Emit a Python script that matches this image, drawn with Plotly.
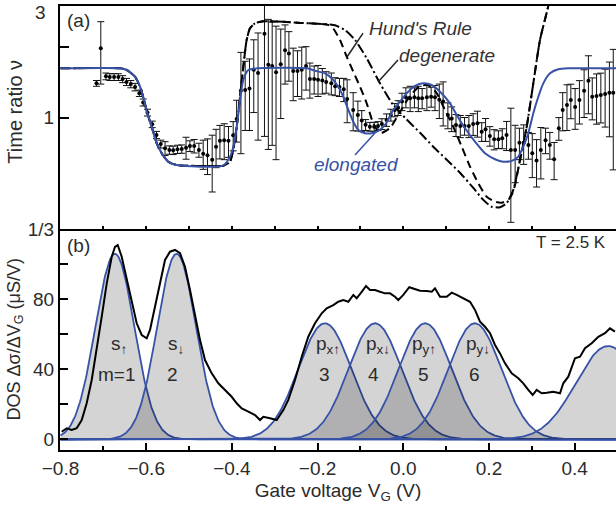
import numpy as np
import plotly.graph_objects as go

# ---------------- data: panel (a) time ratio ----------------
pts_x = [-0.716, -0.706, -0.694, -0.685, -0.675, -0.665, -0.655, -0.646, -0.636, -0.626,
         -0.616, -0.607, -0.597, -0.586, -0.576, -0.566, -0.556, -0.546, -0.537, -0.527,
         -0.517, -0.507, -0.498, -0.488, -0.477, -0.467, -0.457, -0.446, -0.437, -0.428,
         -0.418, -0.408, -0.397, -0.389, -0.379, -0.369, -0.359, -0.349, -0.339, -0.324,
         -0.315, -0.306, -0.297, -0.286, -0.276, -0.267, -0.257, -0.247, -0.237, -0.227,
         -0.218, -0.208, -0.199, -0.189, -0.180, -0.168, -0.159, -0.149, -0.139, -0.131,
         -0.117, -0.106, -0.097, -0.088, -0.078, -0.068, -0.059, -0.050, -0.039, -0.029,
         -0.020, -0.012, -0.003, 0.006, 0.016, 0.026, 0.035, 0.044, 0.055, 0.065,
         0.074, 0.084, 0.093, 0.104, 0.113, 0.123, 0.133, 0.143, 0.153, 0.163,
         0.173, 0.183, 0.192, 0.202, 0.212, 0.222, 0.231, 0.241, 0.251, 0.261,
         0.271, 0.281, 0.292, 0.301, 0.311, 0.321, 0.332, 0.342, 0.352, 0.363,
         0.372, 0.382, 0.391, 0.401, 0.411, 0.422, 0.432, 0.441, 0.451, 0.461,
         0.471, 0.481, 0.490]
pts_v = [1.40, 1.98, 1.50, 1.49, 1.49, 1.49, 1.46, 1.42, 1.39, 1.35,
         1.27, 1.16, 1.05, 0.935, 0.842, 0.77, 0.738, 0.726, 0.724, 0.731,
         0.733, 0.743, 0.755, 0.755, 0.726, 0.70, 0.69, 0.66, 0.75, 0.795,
         0.80, 0.795, 0.84, 0.985, 1.30, 1.31, 1.33, 1.60, 1.55, 2.28,
         1.68, 1.66, 1.56, 1.69, 1.94, 1.88, 1.58, 1.58, 1.60, 1.66,
         1.46, 1.46, 1.45, 1.44, 1.42, 1.40, 1.36, 1.35, 1.32, 1.20,
         1.077, 1.025, 0.97, 0.93, 0.913, 0.913, 0.92, 0.938, 0.976, 1.025,
         1.077, 1.10, 1.17, 1.22, 1.21, 1.22, 1.21, 1.21, 1.22, 1.227,
         1.22, 1.19, 1.17, 1.025, 0.99, 0.929, 0.92, 0.92, 0.92, 0.938,
         0.944, 0.87, 0.89, 0.834, 0.807, 0.807, 0.815, 0.842, 0.726, 0.726,
         0.78, 0.78, 0.763, 0.703, 0.654, 0.726, 0.80, 0.763, 0.662, 0.899,
         1.077, 1.13, 1.188, 1.11, 1.188, 1.30, 1.437, 1.227, 1.236, 1.248,
         1.26, 1.277, 1.277]
pts_err = [0.04, 0.59, 0.05, 0.05, 0.05, 0.05, 0.05, 0.05, 0.05, 0.05,
           0.04, 0.04, 0.035, 0.03, 0.03, 0.03, 0.05, 0.03, 0.03, 0.03,
           0.03, 0.08, 0.04, 0.05, 0.05, 0.10, 0.12, 0.18, 0.14, 0.13,
           0.14, 0.12, 0.12, 0.20, 0.60, 0.43, 0.45, 0.55, 0.75, 1.45,
           0.95, 0.90, 0.90, 0.70, 0.55, 0.45, 0.40, 0.35, 0.40, 0.35,
           0.25, 0.20, 0.22, 0.18, 0.15, 0.15, 0.12, 0.12, 0.15, 0.25,
           0.20, 0.15, 0.10, 0.05, 0.04, 0.04, 0.04, 0.05, 0.06, 0.06,
           0.07, 0.08, 0.10, 0.12, 0.15, 0.12, 0.15, 0.12, 0.15, 0.12,
           0.15, 0.20, 0.25, 0.13, 0.12, 0.10, 0.10, 0.08, 0.10, 0.10,
           0.12, 0.08, 0.10, 0.08, 0.08, 0.07, 0.08, 0.12, 0.37, 0.20,
           0.12, 0.15, 0.10, 0.15, 0.15, 0.18, 0.10, 0.10, 0.12, 0.10,
           0.20, 0.25, 0.20, 0.22, 0.25, 0.30, 0.40, 0.25, 0.30, 0.30,
           0.35, 0.45, 0.68]

# elongated model (blue)
elong_x = [-0.80, -0.661, -0.6455, -0.6261, -0.6145, -0.6051, -0.5974, -0.5872, -0.5755, -0.5638,
           -0.5484, -0.5288, -0.4208, -0.4044, -0.3967, -0.3888, -0.3811, -0.3734, -0.3617, -0.3421,
           -0.2247, -0.2061, -0.1827, -0.1671, -0.1517, -0.14, -0.1283, -0.1167, -0.105, -0.0894,
           -0.0737, -0.0583, -0.0427, -0.0233, -0.0077, 0.0079, 0.0273, 0.0467, 0.0663, 0.0857,
           0.109, 0.1246, 0.144, 0.1673, 0.1907, 0.214, 0.2334, 0.253, 0.2684, 0.28,
           0.2917, 0.3034, 0.3151, 0.3267, 0.3424, 0.3617, 0.3851, 0.50]
elong_v = [1.623, 1.623, 1.597, 1.495, 1.354, 1.188, 1.042, 0.913, 0.776, 0.703,
           0.647, 0.626, 0.622, 0.68, 0.75, 0.913, 1.188, 1.447, 1.597, 1.623,
           1.623, 1.586, 1.545, 1.472, 1.354, 1.227, 1.077, 0.959, 0.884, 0.856,
           0.856, 0.876, 0.929, 1.077, 1.169, 1.27, 1.367, 1.40, 1.377, 1.289,
           1.15, 1.025, 0.899, 0.788, 0.703, 0.663, 0.647, 0.652, 0.68, 0.75,
           0.856, 1.042, 1.227, 1.40, 1.545, 1.608, 1.623, 1.623]

# Hund's rule model (dashed)
hund_x = [-0.80, -0.661, -0.6455, -0.6261, -0.6145, -0.6051, -0.5974, -0.5872, -0.5755, -0.5638,
          -0.5484, -0.5288, -0.44, -0.42, -0.405, -0.397, -0.3888, -0.3811, -0.3734, -0.3656,
          -0.3578, -0.3461, -0.3266, -0.28, -0.24, -0.20, -0.175, -0.1634, -0.1477, -0.1321,
          -0.1167, -0.101, -0.0854, -0.07, -0.0543, -0.031, -0.0077, 0.0156, 0.039, 0.0577,
          0.0763, 0.0973, 0.1167, 0.1363, 0.1557, 0.175, 0.1946, 0.214, 0.2296, 0.245,
          0.2567, 0.2723, 0.288, 0.3034, 0.319, 0.3384, 0.355]
hund_v = [1.623, 1.623, 1.597, 1.495, 1.354, 1.188, 1.042, 0.913, 0.776, 0.703,
          0.647, 0.626, 0.62, 0.622, 0.645, 0.726, 0.913, 1.227, 1.649, 2.146,
          2.407, 2.529, 2.58, 2.57, 2.54, 2.52, 2.49, 2.40, 2.146, 1.82,
          1.57, 1.354, 1.15, 0.944, 0.856, 0.902, 1.056, 1.236, 1.364, 1.377,
          1.285, 1.077, 0.913, 0.75, 0.616, 0.523, 0.458, 0.436, 0.432, 0.444,
          0.482, 0.658, 0.913, 1.40, 2.146, 3.0, 4.2]

# degenerate model (dash-dot)
degen_x = [-0.80, -0.661, -0.6455, -0.6261, -0.6145, -0.6051, -0.5974, -0.5872, -0.5755, -0.5638,
           -0.5484, -0.5288, -0.44, -0.42, -0.405, -0.397, -0.3888, -0.3811, -0.3734, -0.3656,
           -0.3578, -0.3461, -0.3266, -0.28, -0.24, -0.20, -0.17, -0.1593, -0.1359, -0.1126,
           -0.0854, -0.0543, -0.0233, 0.0079, 0.039, 0.07, 0.1013, 0.1323, 0.1634, 0.1867,
           0.2063, 0.2257, 0.2413, 0.2567, 0.2723, 0.288, 0.3034, 0.319, 0.3384, 0.355]
degen_v = [1.623, 1.623, 1.597, 1.495, 1.354, 1.188, 1.042, 0.913, 0.776, 0.703,
           0.647, 0.626, 0.62, 0.622, 0.645, 0.726, 0.913, 1.227, 1.649, 2.146,
           2.407, 2.529, 2.58, 2.57, 2.54, 2.52, 2.50, 2.48, 2.367, 2.146,
           1.792, 1.40, 1.13, 0.98, 0.86, 0.75, 0.66, 0.58, 0.50, 0.444,
           0.415, 0.413, 0.43, 0.49, 0.658, 0.913, 1.40, 2.146, 3.0, 4.2]

# ---------------- data: panel (b) DOS ----------------
dos_x = [-0.7972, -0.7855, -0.7739, -0.7622, -0.7505, -0.7389, -0.7272, -0.7155, -0.7039, -0.6922,
         -0.6805, -0.6728, -0.6665, -0.6572, -0.6455, -0.6338, -0.6222, -0.6105, -0.5988, -0.5911,
         -0.5795, -0.5678, -0.5561, -0.5445, -0.5328, -0.5211, -0.5095, -0.4978, -0.4861, -0.4744,
         -0.4628, -0.4471, -0.4317, -0.4161, -0.4005, -0.3888, -0.3771, -0.3617, -0.3461, -0.3344,
         -0.3267, -0.3111, -0.2955, -0.2800, -0.2684, -0.2527, -0.2371, -0.2217, -0.2061, -0.1904,
         -0.1788, -0.1634, -0.1517, -0.14, -0.1283, -0.1167, -0.1088, -0.0971, -0.0871, -0.0777,
         -0.0661, -0.0544, -0.0427, -0.0311, -0.0194, -0.0117, 0.0, 0.014, 0.0273, 0.039,
         0.0546, 0.0663, 0.074, 0.0857, 0.1013, 0.113, 0.1246, 0.14, 0.1557, 0.1673,
         0.179, 0.1907, 0.2024, 0.214, 0.2257, 0.2374, 0.253, 0.2684, 0.28, 0.2917,
         0.302, 0.3113, 0.323, 0.3347, 0.3501, 0.3657, 0.3734, 0.3851, 0.4007, 0.4124,
         0.424, 0.4397, 0.4551, 0.4707, 0.4824, 0.494]
dos_y = [4.3, 6.3, 5.3, 6.3, 11.0, 20.6, 33.9, 51.0, 70.0, 89.0,
         104.3, 110.0, 111.0, 104.3, 91.0, 77.7, 66.3, 59.6, 57.7, 62.5,
         75.8, 91.0, 102.5, 107.2, 108.2, 106.3, 98.6, 85.3, 70.0, 56.7,
         45.3, 37.7, 32.0, 28.2, 24.3, 20.6, 17.7, 15.8, 13.9, 11.0,
         12.9, 12.0, 11.0, 16.7, 22.5, 33.9, 47.2, 58.6, 66.3, 72.0,
         74.9, 76.7, 78.6, 79.6, 78.6, 82.5, 80.6, 84.3, 87.6, 85.3,
         85.3, 84.3, 83.4, 83.4, 81.5, 79.6, 82.5, 86.9, 85.7, 84.9,
         84.7, 84.3, 86.3, 81.5, 81.5, 83.8, 82.5, 80.6, 78.6, 73.9,
         67.2, 64.3, 60.6, 53.9, 49.1, 43.4, 37.7, 34.9, 32.0, 28.2,
         25.3, 28.2, 26.3, 26.6, 27.2, 26.3, 32.0, 35.8, 46.3, 47.2,
         52.0, 54.9, 58.6, 60.6, 63.4, 61.5]

# Gaussian level fits: centre (V), height (uS/V), width (V)
peak_centers = [-0.673, -0.529, -0.183, -0.066, 0.051, 0.167, 0.478]
peak_heights = [106.0, 106.0, 66.3, 66.3, 66.3, 66.3, 53.3]
peak_widths = [0.0455, 0.0455, 0.062, 0.062, 0.062, 0.062, 0.075]

# level labels
lvl_names = ["s<sub>↑</sub>", "s<sub>↓</sub>", "p<sub>x↑</sub>", "p<sub>x↓</sub>",
             "p<sub>y↑</sub>", "p<sub>y↓</sub>"]
lvl_nums = ["m=1", "2", "3", "4", "5", "6"]
lvl_name_x = [-0.664, -0.531, -0.176, -0.059, 0.048, 0.174]
lvl_num_x = [-0.668, -0.5375, -0.185, -0.0707, 0.0482, 0.167]

# top-panel tick labels
ratio_ticks = [1 / 3, 1, 2, 3]
ratio_ticktext = ["1/3", "1", "", ""]

BLUE = "#3752a6"
TXT = "#2b2b2b"
FONT = "Liberation Sans, Arial, sans-serif"

fig = go.Figure()

# ---- panel (a) ----
fig.add_trace(go.Scatter(
    x=pts_x, y=pts_v, mode="markers", xaxis="x2", yaxis="y2",
    marker=dict(color="black", size=4),
    error_y=dict(type="data", array=pts_err, color="#111111", thickness=1, width=3.5),
    showlegend=False))
fig.add_trace(go.Scatter(x=degen_x, y=degen_v, mode="lines", xaxis="x2", yaxis="y2",
                         line=dict(color="black", width=2, dash="10px,3px,2px,3px",
                                   shape="spline", smoothing=0.6), showlegend=False))
fig.add_trace(go.Scatter(x=hund_x, y=hund_v, mode="lines", xaxis="x2", yaxis="y2",
                         line=dict(color="black", width=2, dash="8px,5px",
                                   shape="spline", smoothing=0.6), showlegend=False))
fig.add_trace(go.Scatter(x=elong_x, y=elong_v, mode="lines", xaxis="x2", yaxis="y2",
                         line=dict(color=BLUE, width=2, shape="spline", smoothing=0.6),
                         showlegend=False))

# leader lines for model labels (data coordinates)
leaders = [
    ([-0.094, -0.1314], [2.298, 1.815], "#222222"),
    ([-0.0124, -0.059], [1.762, 1.419], "#222222"),
    ([-0.1127, -0.066], [0.691, 0.858], BLUE),
]
for lx, ly, lc in leaders:
    fig.add_trace(go.Scatter(x=lx, y=ly, mode="lines", xaxis="x2", yaxis="y2",
                             line=dict(color=lc, width=1.5), showlegend=False))

# ---- panel (b) ----
xg = np.linspace(-0.8, 0.5, 661)
for c, h, w in zip(peak_centers, peak_heights, peak_widths):
    fig.add_trace(go.Scatter(
        x=xg, y=h * np.exp(-0.5 * ((xg - c) / w) ** 2), mode="lines",
        fill="tozeroy", fillcolor="rgba(0,0,6,0.17)",
        line=dict(color=BLUE, width=1.8), showlegend=False))
fig.add_trace(go.Scatter(x=dos_x, y=dos_y, mode="lines",
                         line=dict(color="black", width=2), showlegend=False))

annotations = []
for name, nx in zip(lvl_names, lvl_name_x):
    annotations.append(dict(x=nx, y=54, xref="x", yref="y", text=name, showarrow=False,
                            font=dict(size=19, color=TXT, family=FONT)))
for num, nx in zip(lvl_nums, lvl_num_x):
    annotations.append(dict(x=nx, y=36.8, xref="x", yref="y", text=num, showarrow=False,
                            font=dict(size=19, color=TXT, family=FONT)))

annotations += [
    dict(x=0.039, y=0.3828, xref="x2", yref="y2", text="<i>Hund's Rule</i>", showarrow=False,
         font=dict(size=19, color="#333333", family=FONT)),
    dict(x=0.102, y=0.2673, xref="x2", yref="y2", text="<i>degenerate</i>", showarrow=False,
         font=dict(size=19, color="#333333", family=FONT)),
    dict(x=-0.1104, y=-0.2032, xref="x2", yref="y2", text="<i>elongated</i>", showarrow=False,
         font=dict(size=19, color=BLUE, family=FONT)),
    dict(x=-0.759, y=0.417, xref="x2", yref="y2", text="(a)", showarrow=False,
         font=dict(size=19, color=TXT, family=FONT)),
    dict(x=-0.759, y=110.5, xref="x", yref="y", text="(b)", showarrow=False,
         font=dict(size=19, color=TXT, family=FONT)),
    dict(x=0.391, y=112.7, xref="x", yref="y", text="T = 2.5 K", showarrow=False,
         font=dict(size=17, color=TXT, family=FONT)),
    # top tick label "3" (placed so it is not clipped by the page edge)
    dict(x=-0.0216, y=1.0135, xref="paper", yref="paper", text="3",
         xanchor="right", yanchor="top", showarrow=False,
         font=dict(size=19, color=TXT, family=FONT)),
    dict(x=-0.081, y=0.762, xref="paper", yref="paper", text="Time ratio ν",
         xanchor="center", yanchor="middle",
         textangle=-90, showarrow=False, font=dict(size=20, color=TXT, family=FONT)),
    dict(x=-0.081, y=0.249, xref="paper", yref="paper",
         text="DOS Δσ/ΔV<sub>G</sub> (μS/V)", xanchor="center", yanchor="middle",
         textangle=-90, showarrow=False, font=dict(size=18, color=TXT, family=FONT)),
]

split = 221.0 / 444.0
fig.update_layout(
    width=616, height=509,
    margin=dict(l=60, r=0, t=6, b=59, autoexpand=False),
    paper_bgcolor="white", plot_bgcolor="white",
    font=dict(family=FONT, size=19, color=TXT),
    showlegend=False,
    annotations=annotations,
    xaxis=dict(domain=[0, 1], anchor="y", range=[-0.8012, 0.4964], automargin=False,
               tick0=-0.8, dtick=0.2, tickformat=".1f", ticks="inside", ticklen=7,
               tickwidth=1.5, tickcolor="black", ticklabeloverflow="allow",
               minor=dict(dtick=0.1, tick0=-0.8, ticks="inside", ticklen=4,
                          tickwidth=1.5, tickcolor="black"),
               showline=True, linecolor="black", linewidth=2, mirror=False,
               showgrid=False, zeroline=False,
               tickfont=dict(size=19, color=TXT, family=FONT),
               title=dict(text="Gate voltage V<sub>G</sub> (V)", standoff=6,
                          font=dict(size=19, color=TXT, family=FONT))),
    yaxis=dict(domain=[0, split], anchor="x", range=[-6.11, 120.17], automargin=False,
               tickvals=[0, 40, 80], ticks="inside", ticklen=8, tickwidth=1.5,
               tickcolor="black", ticklabeloverflow="allow",
               minor=dict(tickvals=[20, 60, 100], ticks="inside", ticklen=8,
                          tickwidth=1.5, tickcolor="black"),
               showline=True, linecolor="black", linewidth=2,
               showgrid=False, zeroline=False,
               tickfont=dict(size=19, color=TXT, family=FONT)),
    xaxis2=dict(domain=[0, 1], anchor="y2", matches="x", range=[-0.8012, 0.4964],
                automargin=False,
                tick0=-0.8, dtick=0.1, ticks="inside", ticklen=3, tickwidth=1.5,
                tickcolor="black", showticklabels=False,
                showline=True, linecolor="black", linewidth=2, mirror=True,
                showgrid=False, zeroline=False),
    yaxis2=dict(domain=[split, 1], anchor="x2", type="log", automargin=False,
                range=[np.log10(1 / 3), np.log10(3)],
                tickvals=ratio_ticks, ticktext=ratio_ticktext,
                ticks="inside", ticklen=9, tickwidth=1.5, tickcolor="black",
                ticklabeloverflow="allow",
                showline=True, linecolor="black", linewidth=2,
                showgrid=False, zeroline=False,
                tickfont=dict(size=19, color=TXT, family=FONT)),
)

fig.write_html(
    "out.html",
    config={"displayModeBar": False},
    post_script="document.body.style.margin='0';document.body.style.overflow='hidden';",
)
